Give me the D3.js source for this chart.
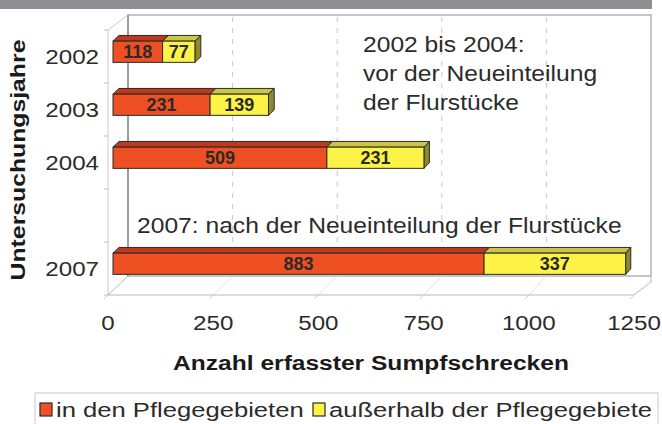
<!DOCTYPE html>
<html><head><meta charset="utf-8">
<script src="https://cdn.jsdelivr.net/npm/d3@7"></script>
<style>html,body{margin:0;padding:0;background:#fff;}svg{display:block;font-family:"Liberation Sans",Arial,sans-serif;}</style>
</head><body>
<svg id="c" width="662" height="424"></svg>
<script>
const categories = ["2002", "2003", "2004", "", "2007"];
const inside = [118, 231, 509, null, 883];
const outside = [77, 139, 231, null, 337];
const seriesNames = ["in den Pflegegebieten", "außerhalb der Pflegegebiete"];
const xTicks = [0, 250, 500, 750, 1000, 1250];
const yTitle = "Untersuchungsjahre";
const xTitle = "Anzahl erfasster Sumpfschrecken";
const note1 = ["2002 bis 2004:", "vor der Neueinteilung", "der Flurstücke"];
const note2 = "2007: nach der Neueinteilung der Flurstücke";

const svg = d3.select("#c");
const xF = d3.scaleLinear().domain([0, 1250]).range([108, 634]);
const xB = d3.scaleLinear().domain([0, 1250]).range([128, 651]);
const yF = d3.scaleBand().domain(categories.map((d, i) => i)).range([30, 295]).padding(0);
const DY = 19;
const P = (v, yy, z) => [xF(v) + z * (xB(v) - xF(v)), yy - z * DY];

const gridCol = "#c9c9c9", wallCol = "#a0a0a0";

svg.append("rect").attr("x", 0).attr("y", 0).attr("width", 652).attr("height", 9).attr("fill", "#8f8f91");

const wTop = 15, wBot = 276;
svg.append("rect").attr("x", xB(0)).attr("y", wTop).attr("width", xB(1250) - xB(0)).attr("height", wBot - wTop)
  .attr("fill", "#fff").attr("stroke", wallCol).attr("stroke-width", 1.2);
svg.selectAll(".gv").data(xTicks.slice(1, -1)).join("line")
  .attr("x1", d => xB(d)).attr("x2", d => xB(d)).attr("y1", wTop + 2).attr("y2", wBot)
  .attr("stroke", gridCol).attr("stroke-dasharray", "5,6");
svg.selectAll(".gf").data(xTicks.slice(1, -1)).join("line")
  .attr("x1", d => xF(d)).attr("y1", 295).attr("x2", d => xB(d)).attr("y2", wBot)
  .attr("stroke", "#e2e2e2");
const floor = d3.path();
floor.moveTo(xF(0), 295); floor.lineTo(xF(1250), 295); floor.lineTo(xB(1250), 282); floor.lineTo(xB(1250), wBot);
floor.moveTo(xF(0), 295); floor.lineTo(xB(0), wBot);
svg.append("path").attr("d", floor.toString()).attr("fill", "none").attr("stroke", "#b8b8b8");
svg.append("path").attr("d", `M${xF(0)},295 L${xF(0)},30 L${xB(0)},${wTop}`).attr("fill", "none").attr("stroke", "#c8c8c8");
svg.append("line").attr("x1", xB(0)).attr("x2", xB(0)).attr("y1", wTop).attr("y2", wBot).attr("stroke", "#8a8a8a").attr("stroke-width", 1.3);
const bounds = categories.map((d, i) => yF(i)).concat([295]);
svg.selectAll(".ct").data(bounds).join("line")
  .attr("x1", xF(0) - 4).attr("x2", xF(0)).attr("y1", d => d).attr("y2", d => d).attr("stroke", "#bbb");
svg.selectAll(".vt").data(xTicks).join("line")
  .attr("x1", d => xF(d)).attr("y1", 295).attr("x2", d => xF(d) - 4).attr("y2", 299).attr("stroke", "#ccc");

const zf = 0.25, zb = 0.55, bh = yF.bandwidth() * 0.4;
const cols = [{front: "#ef5023", top: "#c0381c", side: "#9a2c14"}, {front: "#fdf347", top: "#cdc545", side: "#8e8a2c"}];
const poly = pts => "M" + pts.map(p => p.join(",")).join("L") + "Z";
const gBars = svg.append("g");
categories.forEach((c, i) => {
  if (inside[i] == null) return;
  const cy = yF(i) + yF.bandwidth() / 2;
  const segs = [[0, inside[i]], [inside[i], inside[i] + outside[i]]];
  segs.forEach((s, k) => {
    const y0 = cy - bh / 2, y1 = cy + bh / 2;
    const a = P(s[0], y0, zf), b = P(s[1], y0, zf), bb = P(s[1], y0, zb), ab = P(s[0], y0, zb);
    const bl = P(s[1], y1, zf), blb = P(s[1], y1, zb);
    gBars.append("path").attr("d", poly([a, b, bb, ab])).attr("fill", cols[k].top).attr("stroke", "#2a2a2a").attr("stroke-width", 1).attr("stroke-linejoin", "round");
    if (k === 1) gBars.append("path").attr("d", poly([b, bb, blb, bl])).attr("fill", cols[k].side).attr("stroke", "#2a2a2a").attr("stroke-width", 1).attr("stroke-linejoin", "round");
    gBars.append("rect").attr("x", a[0]).attr("y", a[1]).attr("width", b[0] - a[0]).attr("height", bh)
      .attr("fill", cols[k].front).attr("stroke", "#2a2a2a").attr("stroke-width", 1);
    const val = k === 0 ? inside[i] : outside[i];
    gBars.append("text").attr("x", (a[0] + b[0]) / 2).attr("y", a[1] + bh / 2 + 6.5)
      .attr("text-anchor", "middle").attr("font-size", 18).attr("font-weight", "bold").attr("fill", "#2a2a2a").text(val);
  });
});

function stxt(x, y, str, o = {}) {
  const g = svg.append("g").attr("transform", `translate(${x},${y})${o.rot ? " rotate(" + o.rot + ")" : ""}`);
  g.append("text").attr("transform", `scale(${o.sx || 1.15},1)`).attr("text-anchor", o.anchor || "start")
    .attr("font-size", o.size || 21).attr("font-weight", o.bold ? "bold" : "normal").attr("fill", o.fill || "#2b2b2b").text(str);
}

categories.forEach((c, i) => { if (c) stxt(99, yF(i) + yF.bandwidth() / 2 + 7.5, c, {anchor: "end"}); });
xTicks.forEach(t => stxt(xF(t), 330, t, {anchor: "middle"}));
stxt(25, 160, yTitle, {anchor: "middle", bold: true, rot: -90, sx: 1.18, fill: "#1a1a1a"});
stxt(371, 370, xTitle, {anchor: "middle", bold: true, sx: 1.17, fill: "#1a1a1a"});
note1.forEach((t, i) => stxt(363, 52 + i * 29, t, {size: 22, sx: 1.12}));
stxt(137, 233, note2, {size: 22, sx: 1.12});

svg.append("rect").attr("x", 35).attr("y", 393).attr("width", 623).attr("height", 40).attr("fill", "#fff").attr("stroke", "#c8c8c8");
const legX = [40, 313];
seriesNames.forEach((n, k) => {
  svg.append("rect").attr("x", legX[k]).attr("y", 403).attr("width", 12).attr("height", 13)
    .attr("fill", cols[k].front).attr("stroke", "#2a2a2a").attr("stroke-width", 1.2);
  stxt(legX[k] + 16, 417, n, {sx: 1.22});
});
</script>
</body></html>
